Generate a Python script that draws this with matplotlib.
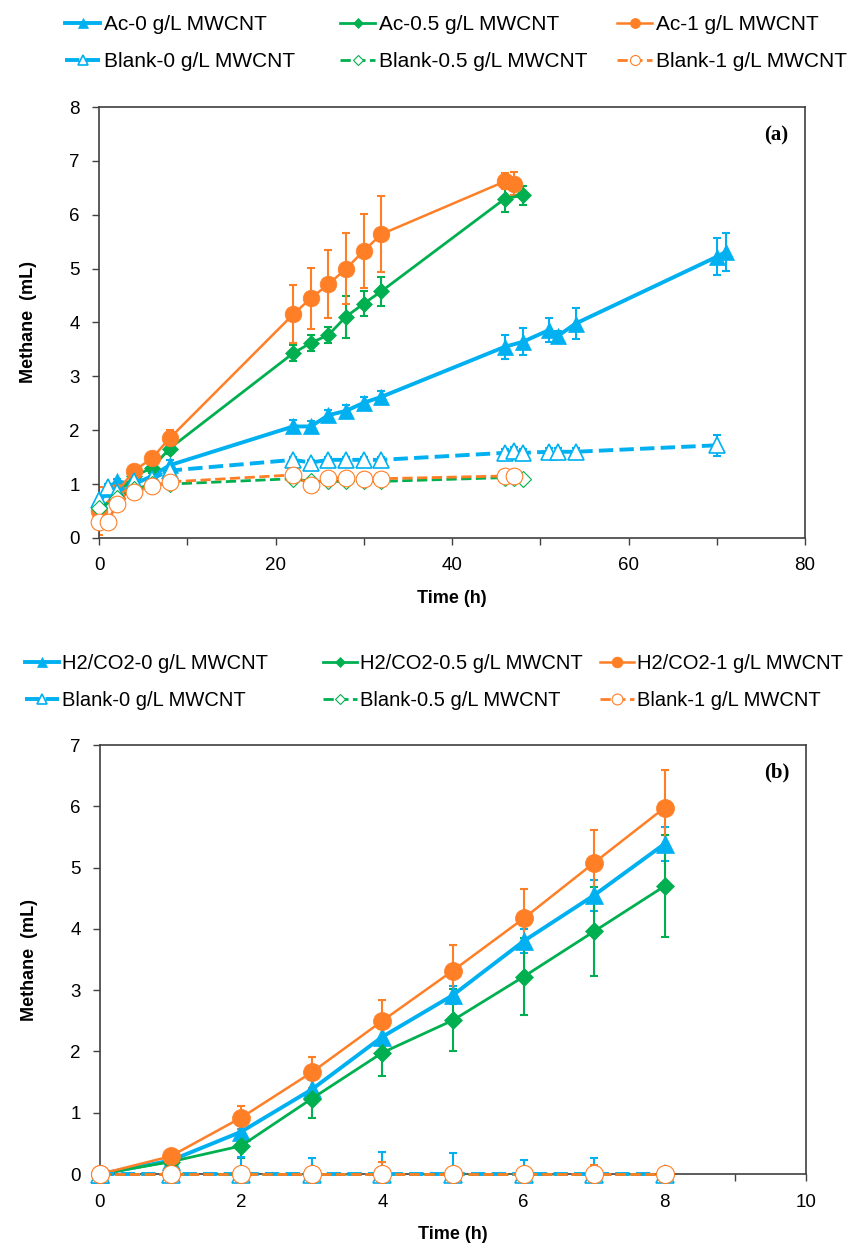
import matplotlib
matplotlib.use("Agg")
from matplotlib import pyplot as plt
from matplotlib.ticker import MultipleLocator
import numpy as np

plt.rcParams['font.family'] = ['Liberation Sans', 'DejaVu Sans']

BLUE = '#00B0F0'
GREEN = '#00B050'
ORANGE = '#FF7F27'
SPINE = '#404040'

# ---- panel (a): acetate ----
t_ac0 = [0, 1, 2, 4, 6, 8, 22, 24, 26, 28, 30, 32, 46, 48, 51, 52, 54, 70, 71]
y_ac0 = [0.65, 0.9, 1.05, 1.0, 1.15, 1.35, 2.07, 2.07, 2.28, 2.36, 2.51, 2.62,
         3.55, 3.64, 3.86, 3.75, 3.98, 5.22, 5.31]
e_ac0 = [0.05, 0.05, 0.05, 0.05, 0.05, 0.1, 0.12, 0.1, 0.1, 0.1, 0.1, 0.1,
         0.22, 0.25, 0.22, 0.1, 0.28, 0.34, 0.36]

t_ac05 = [0, 2, 4, 6, 8, 22, 24, 26, 28, 30, 32, 46, 48]
y_ac05 = [0.5, 0.8, 1.15, 1.3, 1.66, 3.43, 3.62, 3.77, 4.11, 4.35, 4.58, 6.3, 6.36]
e_ac05 = [0.05, 0.05, 0.05, 0.1, 0.1, 0.15, 0.15, 0.15, 0.39, 0.23, 0.27, 0.25, 0.18]

t_ac1 = [0, 2, 4, 6, 8, 22, 24, 26, 28, 30, 32, 46, 47]
y_ac1 = [0.5, 0.85, 1.25, 1.48, 1.85, 4.15, 4.45, 4.71, 5.0, 5.33, 5.64, 6.62, 6.58]
e_ac1 = [0.45, 0.1, 0.1, 0.1, 0.15, 0.54, 0.57, 0.63, 0.66, 0.69, 0.71, 0.15, 0.22]

t_bl0 = [0, 1, 2, 4, 6, 8, 22, 24, 26, 28, 30, 32, 46, 47, 48, 51, 52, 54, 70]
y_bl0 = [0.7, 0.95, 0.85, 1.05, 1.1, 1.25, 1.45, 1.4, 1.45, 1.45, 1.45, 1.45,
         1.58, 1.62, 1.58, 1.6, 1.6, 1.6, 1.72]
e_bl0 = [0.05, 0.05, 0.05, 0.05, 0.05, 0.05, 0.05, 0.05, 0.05, 0.05, 0.05, 0.05,
         0.07, 0.07, 0.07, 0.07, 0.07, 0.07, 0.2]

t_bl05 = [0, 2, 4, 6, 8, 22, 24, 26, 28, 30, 32, 46, 47, 48]
y_bl05 = [0.55, 0.75, 0.9, 1.0, 1.0, 1.1, 1.05, 1.05, 1.05, 1.05, 1.05, 1.12, 1.12, 1.1]

t_bl1 = [0, 1, 2, 4, 6, 8, 22, 24, 26, 28, 30, 32, 46, 47]
y_bl1 = [0.3, 0.3, 0.63, 0.86, 0.96, 1.04, 1.17, 0.98, 1.11, 1.11, 1.1, 1.1, 1.15, 1.15]

# ---- panel (b): H2/CO2 ----
t_b = [0, 1, 2, 3, 4, 5, 6, 7, 8]
y_h0 = [0, 0.22, 0.69, 1.38, 2.24, 2.92, 3.80, 4.55, 5.39]
e_h0 = [0, 0.03, 0.1, 0.15, 0.15, 0.15, 0.2, 0.25, 0.28]
y_h05 = [0, 0.20, 0.46, 1.23, 1.98, 2.51, 3.22, 3.96, 4.70]
e_h05 = [0, 0.03, 0.2, 0.31, 0.38, 0.51, 0.63, 0.73, 0.84]
y_h1 = [0, 0.29, 0.92, 1.66, 2.50, 3.32, 4.17, 5.08, 5.98]
e_h1 = [0, 0.03, 0.19, 0.25, 0.34, 0.42, 0.48, 0.54, 0.62]
y_hb0 = [0, 0, 0, 0, 0, 0, 0, 0, 0]
e_hb0 = [0, 0, 0.28, 0.27, 0.36, 0.34, 0.23, 0.26, 0]
y_hb05 = [0, 0, 0, 0, 0, 0, 0, 0, 0]
y_hb1 = [0, 0, 0, 0, 0, 0, 0, 0, 0]
e_hb1 = [0, 0, 0, 0, 0.2, 0, 0, 0.15, 0]


def series(ax, t, y, err, color, marker, ms, lw, ls, filled, label, mew=1.2):
    if err is not None:
        ax.errorbar(t, y, yerr=err, fmt='none', ecolor=color, elinewidth=1.5,
                    capsize=3, capthick=1.5, zorder=2)
    ax.plot(t, y, color=color, marker=marker, markersize=ms, lw=lw, ls=ls,
            markerfacecolor=color if filled else 'white',
            markeredgecolor=color, markeredgewidth=mew if not filled else 0.5,
            label=label, zorder=3, clip_on=False)


def style(ax, xmax, ymax, xmaj, xmin):
    ax.set_xlim(0, xmax)
    ax.set_ylim(0, ymax)
    ax.xaxis.set_major_locator(MultipleLocator(xmaj))
    ax.xaxis.set_minor_locator(MultipleLocator(xmin))
    ax.yaxis.set_major_locator(MultipleLocator(1))
    for s in ax.spines.values():
        s.set_color(SPINE)
        s.set_linewidth(1.2)
    ax.tick_params(axis='both', which='both', direction='out', length=5,
                   width=1, color=SPINE, labelsize=13.5, pad=9)
    ax.tick_params(axis='y', which='minor', left=False)
    ax.set_xlabel('Time (h)', fontsize=13, fontweight='bold')
    ax.set_ylabel('Methane  (mL)', fontsize=13, fontweight='bold')
    ax.xaxis.set_label_coords(0.5, -0.12)
    ax.yaxis.set_label_coords(-0.088, 0.5)


def legend(ax, y, xcols, size):
    h, l = ax.get_legend_handles_labels()
    for i, x in enumerate(xcols):
        ax.figure.legend([h[i], h[i + 3]], [l[i], l[i + 3]], ncol=1,
                         loc='center left', bbox_to_anchor=(x / 861, y),
                         frameon=False, fontsize=size, handlelength=1.7,
                         handletextpad=0.15, labelspacing=0.85,
                         markerscale=0.6, borderpad=0, borderaxespad=0)


fig = plt.figure(figsize=(8.61, 12.49), dpi=100)

ax1 = fig.add_axes([0.115, 0.5693, 0.820, 0.345])
series(ax1, t_ac0, y_ac0, e_ac0, BLUE, '^', 12, 2.8, '-', True, 'Ac-0 g/L MWCNT')
series(ax1, t_ac05, y_ac05, e_ac05, GREEN, 'D', 8.5, 2.0, '-', True, 'Ac-0.5 g/L MWCNT')
series(ax1, t_ac1, y_ac1, e_ac1, ORANGE, 'o', 12, 1.8, '-', True, 'Ac-1 g/L MWCNT')
series(ax1, t_bl0, y_bl0, e_bl0, BLUE, '^', 12, 2.8, '--', False, 'Blank-0 g/L MWCNT')
series(ax1, t_bl05, y_bl05, None, GREEN, 'D', 8.5, 2.0, '--', False, 'Blank-0.5 g/L MWCNT', mew=0.8)
series(ax1, t_bl1, y_bl1, None, ORANGE, 'o', 12, 2.0, '--', False, 'Blank-1 g/L MWCNT', mew=0.8)
style(ax1, 80, 8, 20, 10)
ax1.text(0.959, 0.935, '(a)', transform=ax1.transAxes, ha='center', va='center',
         fontsize=15, fontweight='bold', family='Liberation Serif')
legend(ax1, 1 - 43 / 1249, [65, 340, 617], 15)

ax2 = fig.add_axes([0.1161, 0.0600, 0.820, 0.3435])
series(ax2, t_b, y_h0, e_h0, BLUE, '^', 13, 2.8, '-', True, 'H2/CO2-0 g/L MWCNT')
series(ax2, t_b, y_h05, e_h05, GREEN, 'D', 9, 2.0, '-', True, 'H2/CO2-0.5 g/L MWCNT')
series(ax2, t_b, y_h1, e_h1, ORANGE, 'o', 13, 1.8, '-', True, 'H2/CO2-1 g/L MWCNT')
series(ax2, t_b, y_hb0, e_hb0, BLUE, '^', 13, 2.8, '--', False, 'Blank-0 g/L MWCNT')
series(ax2, t_b, y_hb05, None, GREEN, 'D', 9, 2.0, '--', False, 'Blank-0.5 g/L MWCNT', mew=0.8)
series(ax2, t_b, y_hb1, e_hb1, ORANGE, 'o', 13, 2.0, '--', False, 'Blank-1 g/L MWCNT', mew=0.8)
style(ax2, 10, 7, 2, 1)
ax2.xaxis.set_label_coords(0.5, -0.122)
ax2.text(0.958, 0.935, '(b)', transform=ax2.transAxes, ha='center', va='center',
         fontsize=15, fontweight='bold', family='Liberation Serif')
legend(ax2, 1 - 682 / 1249, [25, 323, 600], 14.5)

fig.savefig('out.png', dpi=100)
